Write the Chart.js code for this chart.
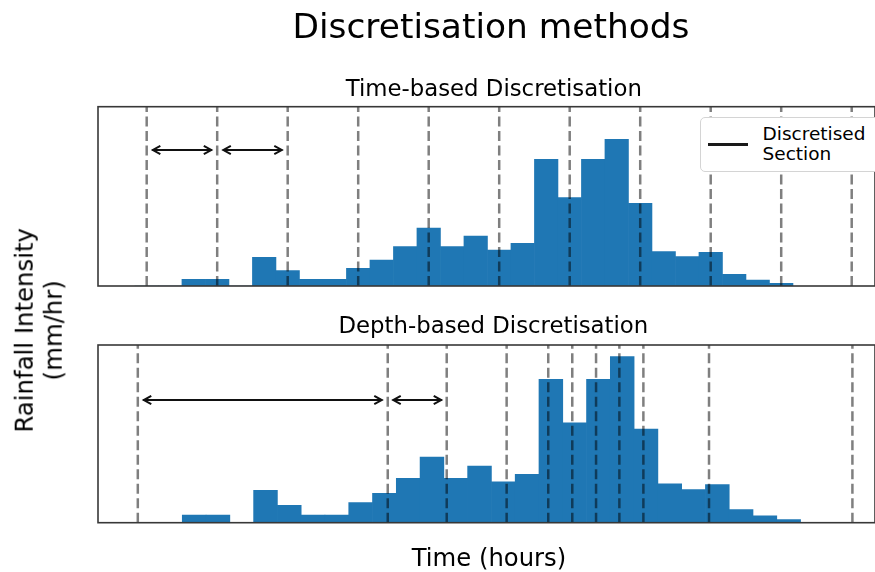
<!DOCTYPE html>
<html><head><meta charset="utf-8">
<script src="https://cdn.jsdelivr.net/npm/chart.js@4.4.1/dist/chart.umd.min.js"></script>
<style>
html,body{margin:0;padding:0;background:#fff;overflow:hidden;width:875px;height:572px;}
.c{position:absolute;left:0;top:0;}
.t{position:absolute;font-family:"DejaVu Sans",sans-serif;color:#000;white-space:nowrap;line-height:1;text-align:center;}
#legend{position:absolute;left:700px;top:116.7px;width:200px;height:55px;box-sizing:border-box;border:1px solid #d4d4d4;border-radius:5px;background:#fff;}
#legline{position:absolute;left:707.7px;top:143px;width:40.6px;height:2.6px;background:#1a1a1a;}
#legtext{position:absolute;left:762.5px;top:123.6px;font-family:"DejaVu Sans",sans-serif;font-size:18.5px;line-height:20px;color:#000;white-space:nowrap;}
</style></head><body>
<canvas id="cTime" class="c" width="875" height="572"></canvas>
<canvas id="cDepth" class="c" width="875" height="572"></canvas>

<div class="t" style="font-size:34.4px;left:191px;width:600px;top:9.2px;">Discretisation methods</div>
<div class="t" style="font-size:22.8px;left:193.8px;width:600px;top:77.4px;">Time-based Discretisation</div>
<div class="t" style="font-size:22.8px;left:193.4px;width:600px;top:314px;">Depth-based Discretisation</div>
<div class="t" style="font-size:24.3px;left:189px;width:600px;top:546.1px;">Time (hours)</div>
<div class="t" style="font-size:24.4px;line-height:29.3px;left:-111px;top:301.2px;width:300px;height:58.6px;transform:rotate(-90deg);transform-origin:50% 50%;">Rainfall Intensity<br>(mm/hr)</div>

<div id="legend"></div>
<div id="legline"></div>
<div id="legtext">Discretised<br>Section</div>

<script>
// ---- data ----
const hours    = [0, 1, 2, 3, 4, 5, 6, 7, 8, 9, 10, 11, 12, 13, 14, 15, 16, 17, 18, 19, 20, 21, 22, 23, 24, 25, 26, 27];
const rainfall = [0, 0, 0.67, 0.67, 0, 2.87, 1.53, 0.67, 0.67, 1.77, 2.6, 3.93, 5.8, 3.93, 5.0, 3.6, 4.27, 12.67, 8.83, 12.67, 14.67, 8.27, 3.43, 2.93, 3.37, 1.17, 0.6, 0.27];
const timeBounds  = [0, 3, 6, 9, 12, 15, 18, 21, 24, 27, 30];
const depthBounds = [-0.37, 10.14, 12.62, 15.14, 16.89, 17.9, 18.9, 19.88, 20.89, 23.65, 29.68];
const timeArrows  = [[0.24, 2.77], [3.24, 5.77]];
const depthArrows = [[-0.14, 9.91], [10.35, 12.41]];

const overlay = {
  id: 'overlay',
  afterDatasetsDraw(chart, args, opts) {
    const {ctx, chartArea: a, scales: {x, y}} = chart;
    ctx.save();
    ctx.strokeStyle = '#111';
    ctx.lineWidth = 2;
    ctx.lineCap = 'butt';
    ctx.lineJoin = 'miter';
    const py = y.getPixelForValue(opts.arrowY);
    for (const [x0, x1] of opts.arrows) {
      const p0 = x.getPixelForValue(x0), p1 = x.getPixelForValue(x1);
      ctx.beginPath(); ctx.moveTo(p0, py); ctx.lineTo(p1, py); ctx.stroke();
      ctx.beginPath(); ctx.moveTo(p0 + 8, py - 4.2); ctx.lineTo(p0 + 0.5, py); ctx.lineTo(p0 + 8, py + 4.2); ctx.stroke();
      ctx.beginPath(); ctx.moveTo(p1 - 8, py - 4.2); ctx.lineTo(p1 - 0.5, py); ctx.lineTo(p1 - 8, py + 4.2); ctx.stroke();
    }
    ctx.strokeStyle = '#383838';
    ctx.lineWidth = 1.6;
    ctx.strokeRect(a.left, a.top, a.right - a.left, a.bottom - a.top);
    ctx.restore();
  }
};

function makeChart(id, cfg) {
  const datasets = [{
    type: 'bar',
    data: hours.map((h, i) => ({x: h, y: rainfall[i]})),
    backgroundColor: '#1f77b4',
    borderWidth: 0,
    barPercentage: 1,
    categoryPercentage: 1,
    order: 1
  }];
  cfg.bounds.forEach(b => datasets.push({
    type: 'line',
    data: [{x: b, y: 0}, {x: b, y: cfg.ymax}],
    borderColor: 'rgba(0,0,0,0.5)',
    borderWidth: 2.5,
    borderDash: [10, 4.5],
    borderCapStyle: 'butt',
    pointRadius: 0,
    fill: false,
    order: 0
  }));
  return new Chart(document.getElementById(id), {
    type: 'bar',
    data: {datasets},
    options: {
      responsive: false,
      animation: false,
      events: [],
      layout: {padding: cfg.pad, autoPadding: false},
      plugins: {
        legend: {display: false},
        tooltip: {enabled: false},
        overlay: {arrows: cfg.arrows, arrowY: cfg.arrowY}
      },
      scales: {
        x: {type: 'linear', min: cfg.xmin, max: cfg.xmax, offset: false, display: false},
        y: {min: 0, max: cfg.ymax, display: false}
      }
    },
    plugins: [overlay]
  });
}

makeChart('cTime', {
  bounds: timeBounds, arrows: timeArrows, arrowY: 13.6, ymax: 17.93,
  xmin: -2.072, xmax: 30.991,
  pad: {top: 106.7, bottom: 286, left: 98, right: 0}
});
makeChart('cDepth', {
  bounds: depthBounds, arrows: depthArrows, arrowY: 10.84, ymax: 15.7,
  xmin: -2.044, xmax: 30.63,
  pad: {top: 345, bottom: 49.3, left: 98, right: 0}
});
</script>
</body></html>
